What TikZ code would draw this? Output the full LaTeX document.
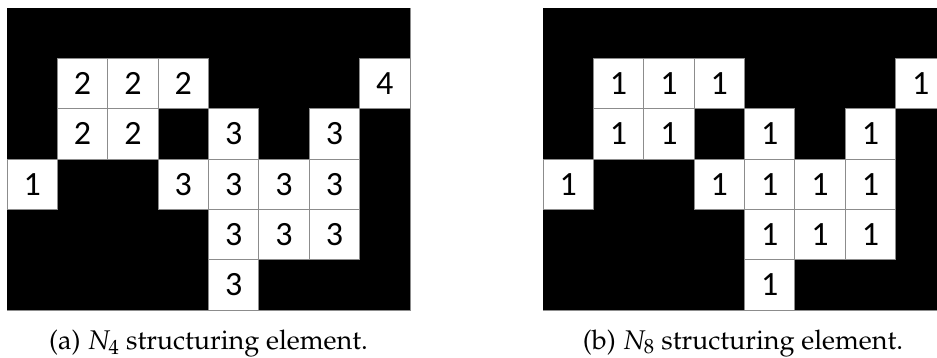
\documentclass[tikz,border=0pt]{standalone}
\usepackage[no-math]{fontspec}
\newfontfamily\carlito{Carlito}
\usepackage[T1]{fontenc}
\usepackage{mathpazo}
\begin{document}
\begin{tikzpicture}[x=1pt,y=-1pt,
  cellbox/.style={draw=black!45, line width=0.8pt, fill=white,
    minimum width=50.375pt, minimum height=50.33pt, inner sep=0pt,
    font=\carlito\fontsize{34}{34}\selectfont},
  gridedge/.style={draw=black!45, line width=0.8pt},
  captxt/.style={anchor=base, inner sep=0pt, font=\fontsize{27}{30}\selectfont}]
\useasboundingbox (0,0) rectangle (937,358);
% left grid (N4)
\fill[black] (7,8) rectangle (410,310);
\draw[gridedge] (7,310) -- (410,310) -- (410,8);
\foreach \r/\c/\v in {1/1/2,1/2/2,1/3/2,1/7/4,2/1/2,2/2/2,2/4/3,2/6/3,3/0/1,3/3/3,3/4/3,3/5/3,3/6/3,4/4/3,4/5/3,4/6/3,5/4/3}
  \node[cellbox] (a-\r-\c) at ({7+50.375*(\c+0.5)},{8+50.33*(\r+0.5)}) {\v};
% right grid (N8)
\fill[black] (543,8) rectangle (946,310);
\draw[gridedge] (543,310) -- (946,310);
\foreach \r/\c in {1/1,1/2,1/3,1/7,2/1,2/2,2/4,2/6,3/0,3/3,3/4,3/5,3/6,4/4,4/5,4/6,5/4}
  \node[cellbox] (b-\r-\c) at ({543+50.375*(\c+0.5)},{8+50.33*(\r+0.5)}) {1};
% captions
\node[captxt] (capa) at (208.5,349) {(a) $N_4$ structuring element.};
\node[captxt] (capb) at (743,349) {(b) $N_8$ structuring element.};
\end{tikzpicture}
\end{document}
